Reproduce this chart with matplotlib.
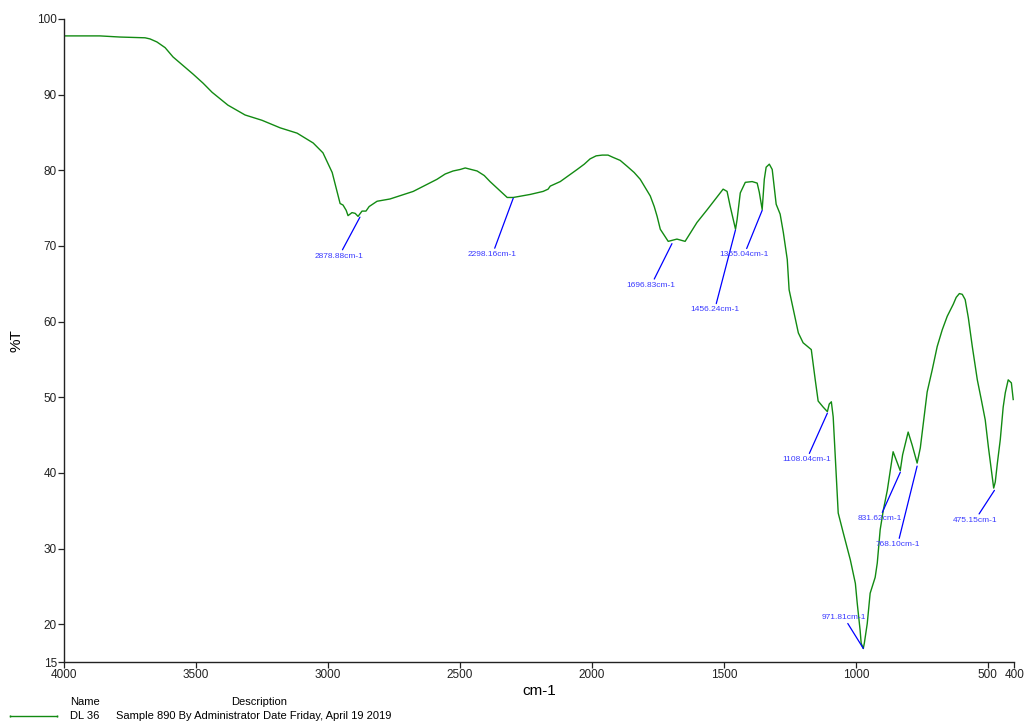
import numpy as np
import matplotlib
matplotlib.use("Agg")
import matplotlib.pyplot as plt
from matplotlib.lines import Line2D

plt.rcParams['font.family'] = ['Liberation Sans', 'DejaVu Sans']

# spectrum (wavenumber cm-1, %T)
wavenumber = [4000, 3864, 3788, 3693, 3674, 3648, 3617, 3587, 3511, 3473,
              3439, 3379, 3344, 3314, 3250, 3181, 3117, 3056, 3019, 2984,
              2965, 2954, 2943, 2931, 2924, 2909, 2897, 2886, 2871, 2856,
              2844, 2814, 2765, 2677, 2632, 2587, 2556, 2526, 2499, 2480,
              2458, 2435, 2408, 2386, 2355, 2321, 2298, 2234, 2185, 2166,
              2158, 2120, 2056, 2029, 2007, 1984, 1961, 1939, 1920, 1893,
              1866, 1840, 1817, 1798, 1779, 1764, 1753, 1741, 1711, 1678,
              1647, 1602, 1563, 1503, 1488, 1476, 1456, 1450, 1438, 1419,
              1393, 1374, 1366, 1355, 1347, 1340, 1328, 1317, 1302, 1287,
              1275, 1260, 1253, 1237, 1218, 1200, 1169, 1154, 1143, 1124,
              1108, 1101, 1093, 1086, 1067, 1048, 1021, 1002, 995, 984,
              980, 972, 968, 957, 946, 934, 927, 919, 908, 896,
              881, 859, 847, 832, 823, 802, 787, 768, 756, 730,
              711, 692, 673, 654, 631, 620, 608, 597, 586, 574,
              559, 540, 525, 510, 498, 478, 472, 464, 453, 442,
              434, 423, 411, 404]
transmittance = [97.75, 97.75, 97.6, 97.5, 97.35, 96.95, 96.2, 94.97, 92.7, 91.5,
                 90.3, 88.6, 87.9, 87.3, 86.6, 85.6, 84.9, 83.6, 82.3, 79.7,
                 77.1, 75.6, 75.4, 74.7, 74.0, 74.4, 74.3, 73.9, 74.6, 74.6,
                 75.2, 75.9, 76.2, 77.2, 78.0, 78.8, 79.5, 79.9, 80.1, 80.3,
                 80.1, 79.9, 79.3, 78.5, 77.5, 76.4, 76.4, 76.8, 77.2, 77.5,
                 77.9, 78.5, 80.1, 80.8, 81.5, 81.9, 82.0, 82.0, 81.7, 81.3,
                 80.5, 79.7, 78.8, 77.7, 76.6, 75.2, 73.9, 72.2, 70.6, 70.9,
                 70.6, 73.1, 74.8, 77.5, 77.2, 75.2, 72.2, 73.5, 77.0, 78.4,
                 78.5, 78.3, 77.1, 74.8, 78.8, 80.4, 80.8, 80.1, 75.5, 74.2,
                 71.8, 68.2, 64.2, 61.6, 58.5, 57.2, 56.3, 52.3, 49.5, 48.7,
                 48.1, 49.1, 49.4, 47.4, 34.7, 32.1, 28.5, 25.4, 22.8, 19.2,
                 17.5, 16.8, 17.5, 20.1, 24.1, 25.4, 26.2, 28.1, 32.5, 35.1,
                 37.7, 42.8, 41.7, 40.3, 42.4, 45.4, 43.7, 41.3, 43.3, 50.7,
                 53.6, 56.7, 58.9, 60.7, 62.3, 63.2, 63.7, 63.6, 62.9, 60.5,
                 56.7, 52.3, 49.7, 47.0, 43.4, 38.0, 38.8, 41.3, 44.4, 48.7,
                 50.6, 52.3, 51.9, 49.7]

# labelled peaks: wavenumber, %T at the pointer end, label offset (points)
peak_wn = [2878.88, 2298.16, 1696.83, 1456.24, 1355.04, 1108.04, 971.81, 831.62, 768.10, 475.15]
peak_t = [73.8, 76.3, 70.3, 72.1, 74.7, 47.9, 16.8, 40.1, 40.9, 37.7]
peak_dx = [-15, -15, -15, -15, -13, -15, -14, -15, -14, -14]
peak_dy = [-25.5, -38, -27.5, -55, -29.5, -31, 20, -31, -54, -19]

xticks = [4000, 3500, 3000, 2500, 2000, 1500, 1000, 500, 400]
yticks = [15, 20, 30, 40, 50, 60, 70, 80, 90, 100]

fig = plt.figure(figsize=(10.24, 7.26), dpi=100)
ax = fig.add_axes([0.0625, 0.088, 0.928, 0.886])

ax.plot(wavenumber, transmittance, color="#128a12", lw=1.0)

for wn, t, dx, dy in zip(peak_wn, peak_t, peak_dx, peak_dy):
    va = "bottom" if dy > 0 else "top"
    ax.annotate(f"{wn:.2f}cm-1", xy=(wn, t), xytext=(dx, dy),
                textcoords="offset points", ha="center", va=va,
                fontsize=6, color="#3a3aff",
                arrowprops=dict(arrowstyle="-", color="blue", lw=0.9,
                                shrinkA=0, shrinkB=0))

ax.set_xlim(4000, 400)
ax.set_ylim(15, 100)
ax.set_xticks(xticks)
ax.set_yticks(yticks)
ax.tick_params(labelsize=8.5, length=4, width=0.9, colors="#222222", pad=1)
for s in ["top", "right"]:
    ax.spines[s].set_visible(False)
for s in ["left", "bottom"]:
    ax.spines[s].set_linewidth(1.0)
    ax.spines[s].set_color("#222222")
ax.set_xlabel("cm-1", fontsize=11, labelpad=2)
ax.set_ylabel("%T", fontsize=11, labelpad=10)

# legend block under the chart
fig.text(70 / 1024, 1 - 702 / 726, "Name", fontsize=8, va="center")
fig.text(231 / 1024, 1 - 702 / 726, "Description", fontsize=8, va="center")
fig.add_artist(Line2D([10 / 1024, 57 / 1024], [1 - 716 / 726] * 2, color="#128a12",
                      lw=1.0, marker="|", markersize=2, markevery=1))
fig.text(70 / 1024, 1 - 716 / 726, "DL 36", fontsize=8, va="center")
fig.text(116 / 1024, 1 - 716 / 726, "Sample 890 By Administrator Date Friday, April 19 2019",
         fontsize=8, va="center")

fig.savefig("out.png", dpi=100)
